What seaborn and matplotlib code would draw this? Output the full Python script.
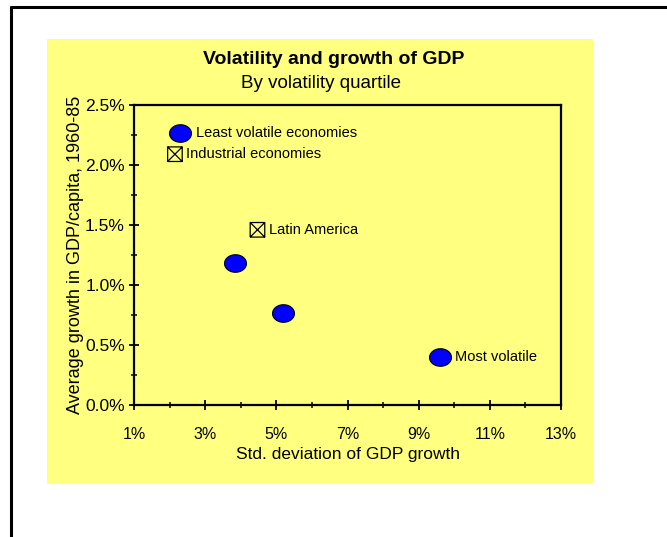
import numpy as np
import pandas as pd
import matplotlib.pyplot as plt
import seaborn as sns
from matplotlib.path import Path
from matplotlib.lines import Line2D
from matplotlib.patches import Rectangle
from matplotlib.ticker import MultipleLocator, FuncFormatter

# volatility quartiles
quartile_sd = [2.30, 3.85, 5.18, 9.60]
quartile_growth = [2.27, 1.18, 0.77, 0.40]
quartile_labels = ["Least volatile economies", "", "", "Most volatile"]

# regional reference points
region_sd = [2.15, 4.47]
region_growth = [2.09, 1.46]
region_labels = ["Industrial economies", "Latin America"]

x_ticks = [1, 3, 5, 7, 9, 11, 13]
y_ticks = [0.0, 0.5, 1.0, 1.5, 2.0, 2.5]

sns.set_theme(style="ticks")
plt.rcParams['font.family'] = ['Liberation Sans', 'DejaVu Sans']
plt.rcParams['text.color'] = 'black'
plt.rcParams['axes.labelcolor'] = 'black'

W, H = 667, 537
fig = plt.figure(figsize=(W / 100, H / 100), dpi=100)
fig.patch.set_facecolor("white")

# frame lines (only top and left visible)
fig.add_artist(Line2D([11 / W, 11 / W], [0, 1 - 7 / H], color="black", lw=2.2, transform=fig.transFigure))
fig.add_artist(Line2D([11 / W, 1], [1 - 7 / H, 1 - 7 / H], color="black", lw=2.2, transform=fig.transFigure))

# yellow chart area
yellow = "#FFFF80"
fig.add_artist(Rectangle((47 / W, 1 - 484 / H), 546 / W, 445 / H, facecolor=yellow,
                         edgecolor="none", transform=fig.transFigure, zorder=0))

ax = fig.add_axes([134 / W, 1 - 405 / H, 427 / W, 300 / H])
ax.set_facecolor(yellow)

q = pd.DataFrame({"sd": quartile_sd, "growth": quartile_growth, "label": quartile_labels})
r = pd.DataFrame({"sd": region_sd, "growth": region_growth, "label": region_labels})

t = np.linspace(0, 2 * np.pi, 60)
ellipse = Path(np.column_stack([1.25 * np.cos(t), np.sin(t)]))
boxx = Path([(-1, -1), (1, -1), (1, 1), (-1, 1), (-1, -1), (-1, -1), (1, 1), (-1, 1), (1, -1)],
            [Path.MOVETO, Path.LINETO, Path.LINETO, Path.LINETO, Path.LINETO,
             Path.MOVETO, Path.LINETO, Path.MOVETO, Path.LINETO])

sns.scatterplot(data=q, x="sd", y="growth", marker=ellipse, s=250, color="#0000FF",
                edgecolor="black", linewidth=0.8, ax=ax, zorder=3, legend=False)
sns.scatterplot(data=r, x="sd", y="growth", marker=boxx, s=110, facecolor="none",
                edgecolor="black", linewidth=0.9, ax=ax, zorder=3, legend=False)

for _, row in q.iterrows():
    if row["label"]:
        ax.annotate(row["label"], (row["sd"], row["growth"]), xytext=(11, 0),
                    textcoords="offset points", va="center", ha="left", fontsize=10.5)
for _, row in r.iterrows():
    ax.annotate(row["label"], (row["sd"], row["growth"]), xytext=(8, 0),
                textcoords="offset points", va="center", ha="left", fontsize=10.5)

ax.set_xlim(1, 13)
ax.set_ylim(0, 2.5)
ax.set_xticks(x_ticks)
ax.set_yticks(y_ticks)
ax.xaxis.set_minor_locator(MultipleLocator(1))
ax.yaxis.set_minor_locator(MultipleLocator(0.25))
ax.xaxis.set_major_formatter(FuncFormatter(lambda v, p: f"{v:.0f}%"))
ax.yaxis.set_major_formatter(FuncFormatter(lambda v, p: f"{v:.1f}%"))
ax.tick_params(which="major", direction="inout", length=7, width=1.3, colors="black", pad=3)
ax.tick_params(which="minor", direction="inout", length=5, width=1.3)
ax.tick_params(axis="x", which="major", pad=12, labelsize=11.5)
ax.tick_params(axis="y", which="major", labelsize=12.5)
for s in ax.spines.values():
    s.set_visible(True)
    s.set_color("black")
    s.set_linewidth(1.6)

ax.set_xlabel("Std. deviation of GDP growth", fontsize=12.5, labelpad=4)
ax.set_ylabel("Average growth in GDP/capita, 1960-85", fontsize=13, labelpad=1)

fig.text(334 / W, 1 - 60 / H, "Volatility and growth of GDP", ha="center", va="center",
         fontsize=14, fontweight="bold")
fig.text(321 / W, 1 - 83 / H, "By volatility quartile", ha="center", va="center", fontsize=13.5)

fig.savefig("out.png", dpi=100)
